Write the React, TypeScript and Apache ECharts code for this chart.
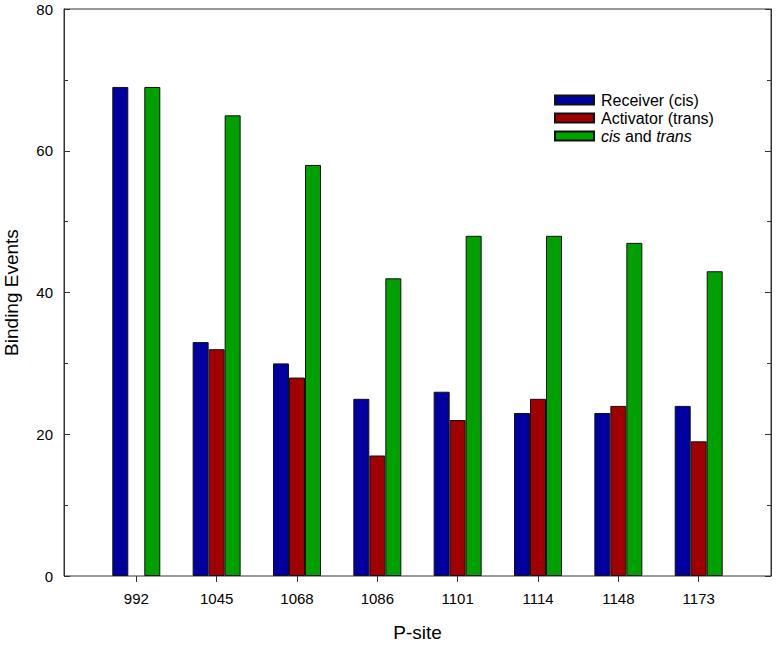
import React, { useEffect, useRef } from "react";
import * as echarts from "echarts";

const categories = ["992", "1045", "1068", "1086", "1101", "1114", "1148", "1173"];
const receiverCis: (number | null)[] = [69, 33, 30, 25, 26, 23, 23, 24];
const activatorTrans: (number | null)[] = [null, 32, 28, 17, 22, 25, 24, 19];
const cisAndTrans: (number | null)[] = [69, 65, 58, 42, 48, 48, 47, 43];
const yTicks = [0, 20, 40, 60, 80];

const toPoints = (arr: (number | null)[]) =>
  arr
    .map((v, i) => (v === null ? null : [i + 1, v]))
    .filter((p) => p !== null) as number[][];

const FONT = "'Liberation Sans', Arial, sans-serif";

export default function App() {
  const ref = useRef<HTMLDivElement>(null);
  useEffect(() => {
    if (!ref.current) return;
    const chart = echarts.init(ref.current, undefined, { renderer: "svg" });
    const positions = categories.map((_, i) => i + 1);
    const common = {
      type: "bar",
      barWidth: 16,
      barGap: "0%",
    };
    chart.setOption({
      animation: false,
      backgroundColor: "#ffffff",
      textStyle: { fontFamily: FONT },
      grid: {
        left: 64,
        right: 5,
        top: 9,
        bottom: 69,
        outerBoundsMode: "none",
        containLabel: false,
        show: true,
        borderColor: "#333333",
        borderWidth: 1,
        backgroundColor: "transparent",
      },
      legend: {
        orient: "vertical",
        left: 554,
        top: 92,
        padding: 0,
        itemWidth: 39,
        itemHeight: 9,
        itemGap: 2,
        icon: "rect",
        textStyle: {
          fontFamily: FONT,
          fontSize: 16,
          color: "#000",
          padding: [0, 0, 0, 2],
          rich: {
            i: { fontStyle: "italic", fontSize: 16, fontFamily: FONT, color: "#000" },
            n: { fontSize: 16, fontFamily: FONT, color: "#000" },
          },
        },
        formatter: (name: string) =>
          name === "cis and trans" ? "{i|cis}{n| and }{i|trans}" : name,
      },
      xAxis: {
        type: "value",
        min: 0.1,
        max: 8.9,
        name: "P-site",
        nameLocation: "middle",
        nameGap: 47,
        nameTextStyle: { fontSize: 19, color: "#000", fontFamily: FONT },
        splitLine: { show: false },
        axisLine: { show: false },
        axisTick: {
          show: true,
          inside: false,
          length: 6,
          customValues: positions,
          lineStyle: { color: "#333" },
        },
        axisLabel: {
          customValues: positions,
          margin: 15,
          fontSize: 15,
          color: "#000",
          fontFamily: FONT,
          formatter: (v: number) => categories[Math.round(v) - 1] ?? "",
        },
      },
      yAxis: [
        {
          type: "value",
          min: 0,
          max: 80,
          interval: 20,
          name: "Binding Events",
          nameLocation: "middle",
          nameGap: 43,
          nameTextStyle: { fontSize: 19, color: "#000", fontFamily: FONT },
          splitLine: { show: false },
          axisLine: { show: true, lineStyle: { color: "#333" } },
          axisTick: { show: true, inside: true, length: 6, lineStyle: { color: "#333" } },
          minorTick: { show: true, splitNumber: 2, length: 4, lineStyle: { color: "#333" } },
          axisLabel: {
            margin: 11,
            fontSize: 15,
            color: "#000",
            fontFamily: FONT,
            formatter: (v: number) => (yTicks.includes(v) ? String(v) : ""),
          },
        },
        {
          type: "value",
          position: "right",
          min: 0,
          max: 80,
          interval: 20,
          splitLine: { show: false },
          axisLine: { show: true, lineStyle: { color: "#333" } },
          axisTick: { show: true, inside: true, length: 6, lineStyle: { color: "#333" } },
          minorTick: { show: true, splitNumber: 2, length: 4, lineStyle: { color: "#333" } },
          axisLabel: { show: false },
        },
      ],
      series: [
        {
          ...common,
          name: "Receiver (cis)",
          data: toPoints(receiverCis),
          itemStyle: { color: "#0000a0", borderColor: "#111", borderWidth: 1 },
        },
        {
          ...common,
          name: "Activator (trans)",
          data: toPoints(activatorTrans),
          itemStyle: { color: "#a00000", borderColor: "#111", borderWidth: 1 },
        },
        {
          ...common,
          name: "cis and trans",
          data: toPoints(cisAndTrans),
          itemStyle: { color: "#00a000", borderColor: "#111", borderWidth: 1 },
        },
      ],
    });
    return () => chart.dispose();
  }, []);
  return <div ref={ref} style={{ width: 776, height: 645, position: "fixed", left: 0, top: 0 }} />;
}
